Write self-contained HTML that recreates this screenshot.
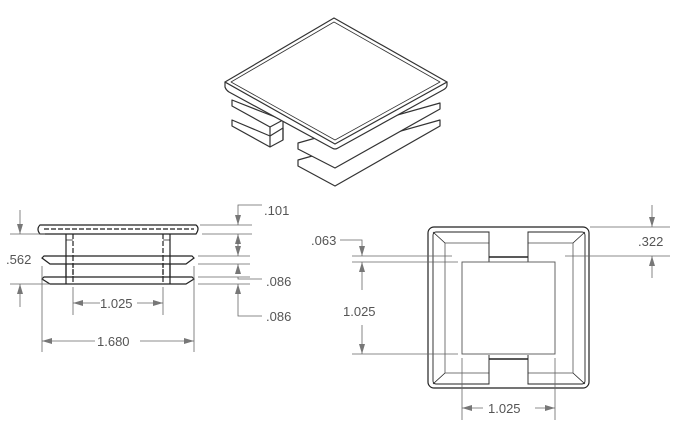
<!DOCTYPE html>
<html><head><meta charset="utf-8"><style>
html,body{margin:0;padding:0;background:#fff}
svg{display:block}
text{font-family:"Liberation Sans",sans-serif;font-size:13px;fill:#555}
</style></head><body>
<svg width="674" height="442" viewBox="0 0 674 442" xmlns="http://www.w3.org/2000/svg">
<defs>
<marker id="a" viewBox="0 0 10 6" refX="10" refY="3" markerWidth="10" markerHeight="6" orient="auto-start-reverse" markerUnits="userSpaceOnUse"><path d="M0,0 L10,3 L0,6z" fill="#777"/></marker>
</defs>
<!-- ISO VIEW -->
<g fill="#fff" stroke="#333" stroke-width="1.2" stroke-linejoin="round">
<path d="M298,160 L440,120 L440,126 L335,186 L298,166 Z"/>
<path d="M298,143 L440,103 L440,109 L335,168 L298,149 Z"/>
<path d="M232,120 L232,126 L270,147 L283,140 L283,128 L270,136 Z"/>
<path d="M232,100 L232,106 L270,127 L283,120 L270,115 Z"/>
<path d="M270,127 L270,147 M283,120 L283,140" fill="none"/>
<path d="M225,82 L225,87 Q226,90 229,92 L332,148 Q335,150 338,148 L443,90 Q447,88 447,85 L447,82 L335,143 Z"/>
<path d="M334,18 L447,82 L335,144 L225,82 Z"/>
<path d="M334,22 L440,82 L335,140 L231,82 Z" fill="none" stroke-width="0.8"/>
</g>
<!-- SIDE VIEW -->
<g stroke="#222" stroke-width="1.2" fill="none">
<path d="M40,225 L196,225 Q200,228 196,234 L40,234 Q36,229 40,225 Z" fill="#fff"/>
<path d="M44,229 L194,229" stroke-dasharray="5,2"/>
<path d="M66,234 L66,284 M170,234 L170,284"/>
<path d="M73,234 L73,284 M163,234 L163,284" stroke-dasharray="5,2"/>
<path d="M66,240 L73,240 M163,240 L170,240" stroke-width="0.8"/>
<path d="M44,256 L192,256 L194,258 L186,264 L50,264 L42,258 Z" fill="#fff"/>
<path d="M44,277 L192,277 L194,279 L186,284 L50,284 L42,279 Z" fill="#fff"/>
<path d="M66,256 L66,284 M170,256 L170,284"/>
<path d="M73,256 L73,284 M163,256 L163,284" stroke-dasharray="5,2"/>
</g>
<g stroke="#666" stroke-width="0.8" fill="none">
<path d="M10,234 L45,234 M10,284 L50,284"/>
<path d="M20,210 L20,234" marker-end="url(#a)"/>
<path d="M20,307 L20,284" marker-end="url(#a)"/>
<path d="M200,225 L252,225 M202,234 L252,234 M198,256 L250,256 M198,264 L250,264 M198,277 L250,277 M198,284 L250,284"/>
<path d="M262,205 L238,205 L238,225" marker-end="url(#a)"/>
<path d="M238,250 L238,234" marker-end="url(#a)"/>
<path d="M238,240 L238,256" marker-end="url(#a)"/>
<path d="M238,272 L238,264" marker-end="url(#a)"/>
<path d="M262,279 L238,279 L238,277"/>
<path d="M262,316 L238,316 L238,284" marker-end="url(#a)"/>
<path d="M73,287 L73,315 M163,287 L163,315 M42,266 L42,352 M194,266 L194,352"/>
<path d="M100,303 L73,303" marker-end="url(#a)"/>
<path d="M137,303 L163,303" marker-end="url(#a)"/>
<path d="M95,341 L42,341" marker-end="url(#a)"/>
<path d="M140,341 L194,341" marker-end="url(#a)"/>
</g>
<text x="264" y="215">.101</text>
<text x="6" y="264">.562</text>
<text x="266" y="286">.086</text>
<text x="266" y="321">.086</text>
<text x="100" y="308">1.025</text>
<text x="97" y="346">1.680</text>
<!-- FRONT VIEW -->
<g stroke="#222" stroke-width="1.2" fill="none">
<rect x="428" y="227" width="161" height="161" rx="6"/>
<rect x="433" y="232" width="152" height="152" rx="3" stroke-width="0.9"/>
<rect x="445" y="243" width="128" height="130" stroke="#555" stroke-width="0.8"/>
<path d="M433,232 L445,243 M585,232 L573,243 M433,384 L445,373 M585,384 L573,373" stroke-width="0.8"/>
</g>
<g fill="#fff" stroke="none"><rect x="489.5" y="230" width="38" height="26"/><rect x="489.5" y="360" width="38" height="26"/></g>
<g stroke="#222" stroke-width="1.2" fill="none">
<path d="M489,232 L489,262 M528,232 L528,262 M489,355 L489,384 M528,355 L528,384" stroke-width="0.9"/>
<path d="M489,257 L528,257 M489,359 L528,359" stroke-width="1.6"/>
<rect x="462" y="262" width="93" height="92" stroke="#555" stroke-width="0.9" fill="#fff"/>
</g>
<g stroke="#666" stroke-width="0.8" fill="none">
<path d="M352,256 L452,256 M352,262 L458,262 M352,354 L458,354"/>
<path d="M340,240 L362,240 L362,256" marker-end="url(#a)"/>
<path d="M362,290 L362,262" marker-end="url(#a)"/>
<path d="M362,325 L362,354" marker-end="url(#a)"/>
<path d="M590,227 L670,227 M565,256 L670,256"/>
<path d="M652,205 L652,227" marker-end="url(#a)"/>
<path d="M652,278 L652,256" marker-end="url(#a)"/>
<path d="M462,358 L462,420 M555,358 L555,420"/>
<path d="M483,408 L462,408" marker-end="url(#a)"/>
<path d="M535,408 L555,408" marker-end="url(#a)"/>
</g>
<text x="311" y="245">.063</text>
<text x="343" y="316">1.025</text>
<text x="638" y="246">.322</text>
<text x="488" y="413">1.025</text>
</svg>
</body></html>
